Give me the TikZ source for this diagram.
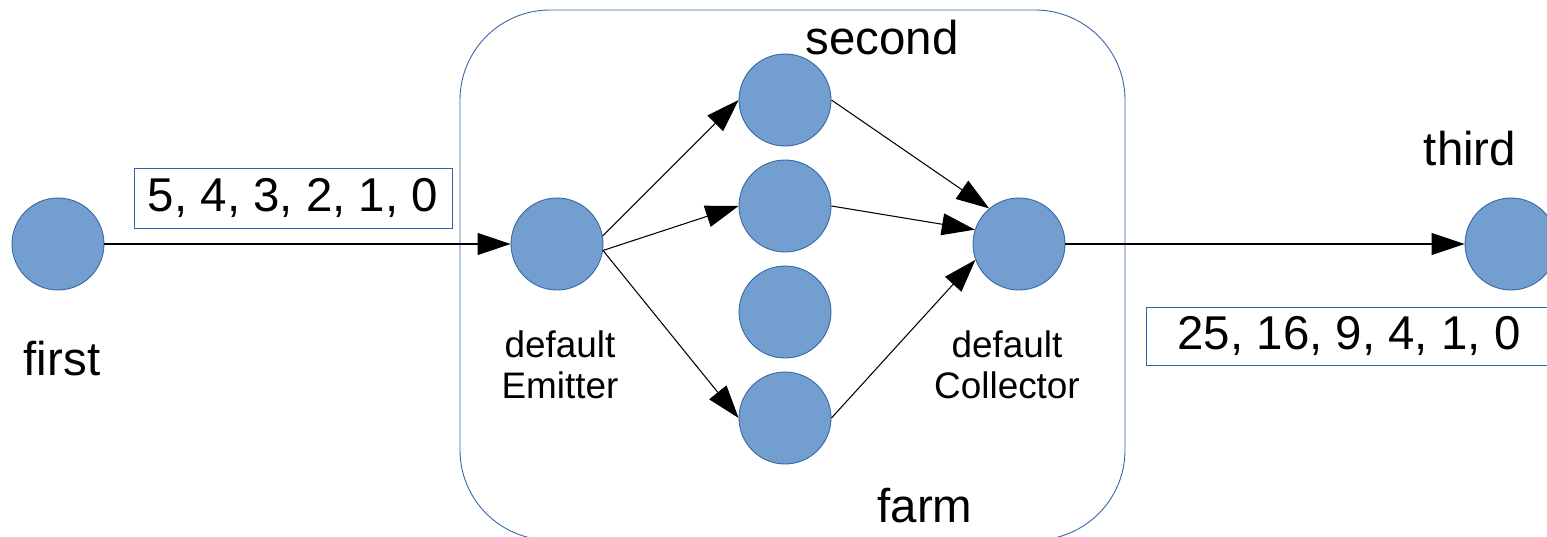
\documentclass[tikz,border=0pt]{standalone}
\usepackage{fontspec}
\setmainfont{Liberation Sans}
\usepackage{tikz}
\usetikzlibrary{arrows.meta}
\definecolor{procfill}{HTML}{729FCF}
\definecolor{procline}{HTML}{3465A4}

\begin{document}
\begin{tikzpicture}[x=0.02cm,y=-0.02cm,
  proc/.style={circle,draw=procline,fill=procfill,line width=0.5pt,minimum size=1.84cm,inner sep=0pt},
  databox/.style={draw=procline,line width=0.5pt,minimum height=1.2cm,inner sep=0pt,font=\fontsize{27}{32}\selectfont},
  biglbl/.style={font=\fontsize{27}{32}\selectfont,anchor=base,inner sep=0pt},
  smalllbl/.style={font=\fontsize{21}{23}\selectfont,align=center,inner sep=0pt},
  flow/.style={line width=0.6pt,-{Triangle[length=0.66cm,width=0.44cm]}}]
\clip (0,0) rectangle (1547,537);
\draw[procline,line width=0.5pt,rounded corners=1.8cm] (460,10) rectangle (1125,540);
\node[proc] (first) at (58,244) {};
\node[proc] (emitter) at (557,244) {};
\node[proc] (w1) at (785,100) {};
\node[proc] (w2) at (785,206) {};
\node[proc] (w3) at (785,312) {};
\node[proc] (w4) at (785,418) {};
\node[proc] (collector) at (1019,244) {};
\node[proc] (third) at (1511,244) {};
\node[databox,minimum width=6.36cm] (inbox) at (293,198) {5, 4, 3, 2, 1, 0};
\node[databox,minimum width=8.1cm,minimum height=1.16cm] (outbox) at (1349,336) {25, 16, 9, 4, 1, 0};
\node[biglbl] (firstlbl) at (62,375) {first};
\node[biglbl] (secondlbl) at (882,55) {second};
\node[biglbl] (thirdlbl) at (1470,165) {third};
\node[biglbl] (farmlbl) at (925,522) {farm};
\node[smalllbl] (emitterlbl) at (560,365) {default\\Emitter};
\node[smalllbl] (collectorlbl) at (1007,365) {default\\Collector};
\draw[flow] (first) -- (emitter);
\draw[flow] (emitter.10) -- (w1.west);
\draw[flow] (emitter.-8) -- (w2.west);
\draw[flow] (emitter.-8) -- (w4.west);
\draw[flow] (w1.east) -- (collector.130);
\draw[flow] (w2.east) -- (collector.162);
\draw[flow] (w4.east) -- (collector.200);
\draw[flow] (collector) -- (third);
\end{tikzpicture}
\end{document}
